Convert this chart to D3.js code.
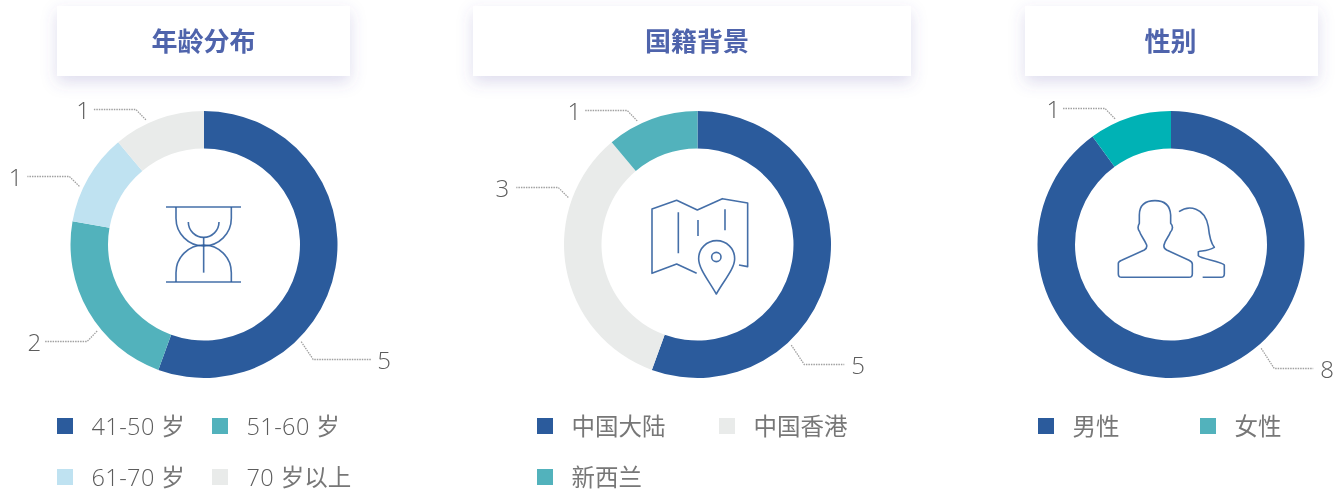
<!DOCTYPE html>
<html>
<head>
<meta charset="utf-8">
<script src="https://cdn.jsdelivr.net/npm/d3@7/dist/d3.min.js"></script>
<style>
html, body { margin: 0; padding: 0; background: #fff; }
svg { display: block; }
text { font-family: "Open Sans", "Noto Sans CJK SC", sans-serif; opacity: 0.999; }
</style>
</head>
<body>
<div id="chart"></div>
<script>
// data
var ageLabels = ["41-50 岁", "51-60 岁", "61-70 岁", "70 岁以上"];
var ageValues = [5, 2, 1, 1];
var originLabels = ["中国大陆", "中国香港", "新西兰"];
var originValues = [5, 3, 1];
var genderLabels = ["男性", "女性"];
var genderValues = [8, 1];
// the picture labels the big slice 8 but draws the small one as a tenth of the ring
var genderSlices = [9, 1];

var blue = "#2b5b9c", teal = "#52b2bc", sky = "#bfe2f1", grey = "#e9ebea", strongTeal = "#00b2b5";
var labelColor = "#5c5c5c";

var outerR = 133.5, innerR = 96, cy = 244.5;

var charts = [
  {
    title: "年龄分布", labels: ageLabels, values: ageValues, slices: ageValues,
    cx: 204, box: [57, 293],
    colors: [blue, teal, sky, grey], legendColors: [blue, teal, sky, grey],
    legendX: [57, 212],
    // leader: angle on the ring (deg), elbow dx, dy, horizontal run, label gap
    leaders: [[135, 12, 18, 58, 6], [231, -10, 10, -42, -4], [295, -10, -10, -42, -5], [335, -10, -10, -42, -4]],
    icon: "hourglass"
  },
  {
    title: "国籍背景", labels: originLabels, values: originValues, slices: originValues,
    cx: 697.5, box: [473, 438],
    colors: [blue, grey, teal], legendColors: [blue, grey, teal],
    legendX: [537, 719],
    leaders: [[137, 13, 19, 40, 7], [290, -10, -10, -42, -7], [334, -10, -10, -42, -4]],
    icon: "map"
  },
  {
    title: "性别", labels: genderLabels, values: genderValues, slices: genderSlices,
    cx: 1171, box: [1025, 293],
    colors: [blue, strongTeal], legendColors: [blue, teal],
    legendX: [1038, 1200],
    leaders: [[139, 13, 20, 39, 7], [336, -10, -10, -42, -3]],
    icon: "people"
  }
];

var svg = d3.select("#chart").append("svg")
  .attr("width", 1335)
  .attr("height", 493);

var defs = svg.append("defs");
var shadow = defs.append("filter").attr("id", "boxShadow")
  .attr("x", "-20%").attr("y", "-50%").attr("width", "140%").attr("height", "200%");
shadow.append("feDropShadow")
  .attr("dx", 0).attr("dy", 6).attr("stdDeviation", 8)
  .attr("flood-color", "#5a4fa8").attr("flood-opacity", 0.2);

var pie = d3.pie().sort(null).value(function (d) { return d; });
var arc = d3.arc().innerRadius(innerR).outerRadius(outerR);

charts.forEach(function (c) {
  // title box
  svg.append("rect")
    .attr("x", c.box[0]).attr("y", 6)
    .attr("width", c.box[1]).attr("height", 70)
    .attr("fill", "#fff")
    .attr("filter", "url(#boxShadow)");
  svg.append("text")
    .attr("x", c.cx - 0.5).attr("y", 51)
    .attr("text-anchor", "middle")
    .attr("font-size", 26).attr("font-weight", 700)
    .attr("fill", "#4f64ac")
    .text(c.title);

  // donut
  var g = svg.append("g").attr("transform", "translate(" + c.cx + "," + cy + ")");
  g.selectAll("path.slice")
    .data(pie(c.slices))
    .enter().append("path")
    .attr("class", "slice")
    .attr("d", arc)
    .attr("fill", function (d, i) { return c.colors[i]; });

  // leader lines and their numbers
  c.values.forEach(function (v, i) {
    var l = c.leaders[i];
    var p = d3.pointRadial(l[0] * Math.PI / 180, outerR + 4);
    var elbow = [p[0] + l[1], Math.round(p[1] + l[2]) + 0.5 - (cy % 1)];
    var end = [elbow[0] + l[3], elbow[1]];
    g.append("path")
      .attr("d", d3.line()([p, elbow, end]))
      .attr("fill", "none")
      .attr("stroke", "#a0a0a0")
      .attr("stroke-width", 1.3)
      .attr("stroke-dasharray", "1.5,1");
    g.append("text")
      .attr("x", end[0] + l[4]).attr("y", end[1] + 9)
      .attr("text-anchor", l[3] > 0 ? "start" : "end")
      .attr("font-size", 24).attr("font-weight", 300)
      .attr("fill", labelColor)
      .text(v);
  });

  drawIcon(c);

  // legend, two per row
  var row = d3.scalePoint().domain([0, 1]).range([418, 469]);
  c.labels.forEach(function (name, i) {
    var x = c.legendX[i % 2], y = row(Math.floor(i / 2));
    svg.append("rect")
      .attr("x", x).attr("y", y)
      .attr("width", 16).attr("height", 16)
      .attr("fill", c.legendColors[i]);
    var t = svg.append("text")
      .attr("x", x + 34.5).attr("y", y + 16.5)
      .attr("font-size", 23.5)
      .attr("fill", labelColor);
    // latin parts are thin in the picture, the chinese ones a bit heavier
    name.split(/([\u4e00-\u9fff]+)/).forEach(function (part) {
      if (!part) return;
      var cjk = /[\u4e00-\u9fff]/.test(part);
      t.append("tspan")
        .attr("font-weight", cjk ? 400 : 300)
        .attr("fill", cjk ? "#777" : labelColor)
        .attr("letter-spacing", cjk ? 0 : 0.4)
        .text(part);
    });
  });
});

function drawIcon(c) {
  var g = svg.append("g")
    .attr("fill", "none")
    .attr("stroke", blue)
    .attr("stroke-opacity", 0.88)
    .attr("stroke-linejoin", "round")
    .attr("stroke-width", 4.8);
  if (c.icon == "hourglass") {
    g.attr("transform", "translate(150,190) scale(0.3333)");
    g.append("path").attr("d", "M48,51H273M48,276H273");
    g.append("path").attr("d", "M78,51V85A83,83 0 0 0 161,168A83,83 0 0 0 244,85V51");
    g.append("path").attr("d", "M78,276V248A83,83 0 0 1 161,165A83,83 0 0 1 244,248V276");
    g.append("path").attr("d", "M115,96A46,46 0 0 0 207,96");
    g.append("path").attr("d", "M161,142V248");
  } else if (c.icon == "map") {
    g.attr("transform", "translate(640,185) scale(0.3333)");
    g.append("path").attr("d", "M170,265L110,237L36,265V72L110,46L172,75L247,41L323,54V245L297,240");
    g.append("path").attr("d", "M115,82V205M174,105V153M255,73V136");
    g.append("path").attr("d", "M229,327C205,285 176,250 176,221A54,54 0 0 1 284,221C284,250 253,285 229,327Z");
    g.append("circle").attr("cx", 229).attr("cy", 216).attr("r", 14);
  } else {
    g.attr("transform", "translate(1105,190) scale(0.3333)");
    g.append("path").attr("d", "M50,262Q40,262 40,252V220Q40,215 50,211L118,180Q127,175 125,165C118,148 106,135 104,125C96,115 100,105 103,100V75C103,45 120,32 150,32C180,32 195,45 197,75V100C204,108 204,118 196,127C192,140 180,150 177,165Q175,175 185,180L252,211Q262,216 262,222V252Q262,262 252,262Z");
    g.append("path").attr("d", "M222,65C250,45 300,50 310,110C313,140 318,160 328,172C310,182 295,182 280,185V197C285,207 350,213 358,225V252Q358,262 348,262H293");
  }
}
</script>
</body>
</html>
